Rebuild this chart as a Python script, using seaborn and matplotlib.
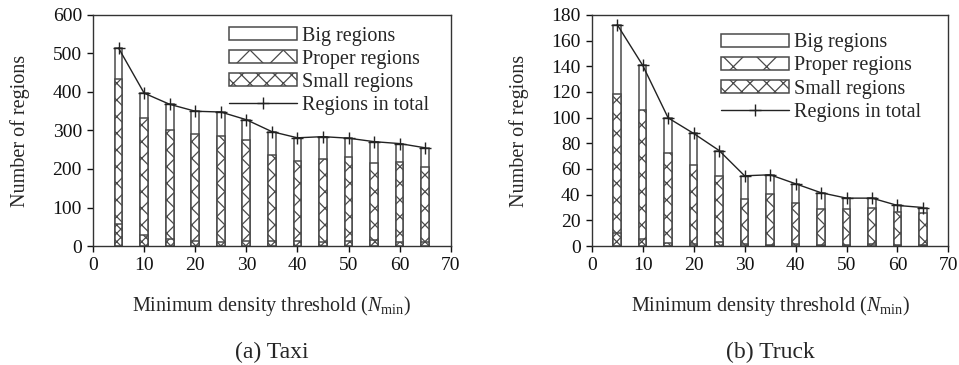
import matplotlib
matplotlib.use("Agg")
import matplotlib.pyplot as plt
import seaborn as sns
import pandas as pd
from matplotlib.patches import Patch
from matplotlib.lines import Line2D

# Minimum density thresholds
thresholds = [5, 10, 15, 20, 25, 30, 35, 40, 45, 50, 55, 60, 65]

# Taxi: small regions, small+proper (cumulative), total
taxi_small = [57, 28, 19, 14, 10, 14, 12, 14, 10, 14, 16, 10, 10]
taxi_proper_cum = [434, 333, 302, 290, 286, 275, 237, 222, 226, 230, 216, 218, 206]
taxi_total = [514, 397, 368, 350, 348, 328, 297, 281, 284, 280, 271, 266, 255]

# Truck
truck_small = [10.4, 5.7, 2.6, 1.5, 3.1, 1.5, 1.0, 1.5, 1.0, 1.0, 1.5, 0.5, 0.5]
truck_proper_cum = [118.8, 105.8, 72.6, 63.5, 54.5, 37.0, 40.5, 33.2, 28.5, 28.5, 30.0, 26.4, 25.4]
truck_total = [172.5, 140.8, 99.8, 87.7, 74.4, 54.7, 55.5, 48.5, 41.5, 37.3, 37.3, 31.6, 30.0]

sns.set_style("ticks")
plt.rcParams['font.family'] = ['Liberation Serif', 'DejaVu Serif']
plt.rcParams['mathtext.fontset'] = 'custom'
plt.rcParams['mathtext.rm'] = 'Liberation Serif'
plt.rcParams['mathtext.it'] = 'Liberation Serif:italic'
plt.rcParams['hatch.linewidth'] = 0.9

EDGE = '#4a4a4a'
TICK_FS = 14
LABEL_FS = 14.5
LEG_FS = 14.5
CAP_FS = 17


def draw_panel(ax, small, proper_cum, total, ymax, ystep, caption, leg_anchor):
    df = pd.DataFrame({'N': thresholds, 'small': small,
                       'proper': proper_cum, 'total': total})
    bar_kw = dict(native_scale=True, width=0.3, saturation=1, color='white',
                  edgecolor=EDGE, linewidth=1.1, errorbar=None, ax=ax)
    # layered bars: total (big on top), small+proper, small
    sns.barplot(data=df, x='N', y='total', **bar_kw)
    sns.barplot(data=df, x='N', y='proper', hatch='xx', **bar_kw)
    sns.barplot(data=df, x='N', y='small', hatch='xxxx', **bar_kw)
    sns.lineplot(data=df, x='N', y='total', color='#222222', linewidth=1.0,
                 marker='+', markersize=8, markeredgewidth=1.0,
                 markeredgecolor='#222222', ax=ax, zorder=5)

    ax.set_xlim(0, 70)
    ax.set_ylim(0, ymax)
    ax.set_xticks(range(0, 71, 10))
    ax.set_yticks(range(0, ymax + 1, ystep))
    ax.tick_params(direction='out', length=4, width=1, labelsize=TICK_FS,
                   colors='#111111', pad=4)
    for s in ax.spines.values():
        s.set_linewidth(1.0)
        s.set_color('#333333')
    ax.set_xlabel(r'Minimum density threshold ($N_{\rm min}$)', fontsize=LABEL_FS)
    ax.set_ylabel('Number of regions', fontsize=LABEL_FS)
    ax.xaxis.set_label_coords(0.5, -0.26)
    ax.xaxis.label.set_va('center')
    ax.yaxis.set_label_coords(-0.205, 0.5)
    ax.yaxis.label.set_va('center')
    ax.text(0.5, -0.459, caption, transform=ax.transAxes, ha='center', va='center',
            fontsize=CAP_FS)

    handles = [
        Patch(facecolor='white', edgecolor=EDGE, linewidth=1.1, label='Big regions'),
        Patch(facecolor='white', edgecolor=EDGE, linewidth=1.1, hatch='x', label='Proper regions'),
        Patch(facecolor='white', edgecolor=EDGE, linewidth=1.1, hatch='xx', label='Small regions'),
        Line2D([0], [0], color='#222222', linewidth=1.0, marker='+', markersize=8,
               markeredgewidth=1.0, label='Regions in total'),
    ]
    ax.legend(handles=handles, loc='upper left', bbox_to_anchor=leg_anchor, frameon=False,
              fontsize=LEG_FS, handlelength=3.4, handleheight=0.6, labelspacing=0.2,
              handletextpad=0.25, borderaxespad=0, borderpad=0)


fig = plt.figure(figsize=(9.59, 3.65), dpi=100)
ax1 = fig.add_axes([0.097, 0.326, 0.373, 0.633])
ax2 = fig.add_axes([0.617, 0.326, 0.372, 0.633])

draw_panel(ax1, taxi_small, taxi_proper_cum, taxi_total, 600, 100, '(a) Taxi', (0.38, 0.95))
draw_panel(ax2, truck_small, truck_proper_cum, truck_total, 180, 20, '(b) Truck', (0.362, 0.92))

fig.savefig('out.png', dpi=100)
